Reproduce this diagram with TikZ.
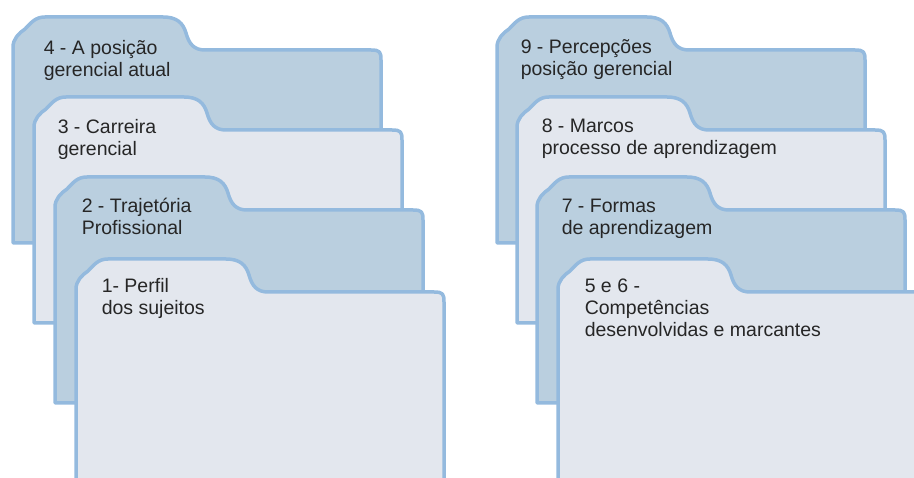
\documentclass[tikz,border=0pt]{standalone}
\usepackage{fontspec}
\setmainfont{Liberation Sans}
\definecolor{tabline}{RGB}{148,186,222}
\definecolor{tabdark}{RGB}{186,207,223}
\definecolor{tablight}{RGB}{227,231,238}
\definecolor{tabtext}{RGB}{38,38,38}
\begin{document}
\begin{tikzpicture}[x=1pt,y=-1pt,line width=3.5pt,
  folder/.style={draw=tabline,line join=round},
  label/.style={anchor=base west,inner sep=0pt,align=left,text=tabtext,
    font=\fontsize{19.5}{22}\selectfont}]
\useasboundingbox (0,0) rectangle (914,478);
\clip (0,0) rectangle (914,478);
% left stack
\draw[folder,fill=tabdark,shift={(13,17)}] (0,226) -- (0,30) .. controls (0,22) and (6,16) .. (12,12) .. controls (18,6) and (22,0) .. (32,0) -- (150,0) .. controls (164,0) and (170,6) .. (173,16) .. controls (176,27) and (181,33) .. (192,33) -- (358,33) .. controls (367,33) and (368,35) .. (368,43) -- (368,226) -- cycle;
\node[label] (f4) at (42,77) {4 - A posição\\gerencial atual};
\draw[folder,fill=tablight,shift={(34,97)}] (0,226) -- (0,30) .. controls (0,22) and (6,16) .. (12,12) .. controls (18,6) and (22,0) .. (32,0) -- (150,0) .. controls (164,0) and (170,6) .. (173,16) .. controls (176,27) and (181,33) .. (192,33) -- (358,33) .. controls (367,33) and (368,35) .. (368,43) -- (368,226) -- cycle;
\node[label] (f3) at (56,156) {3 - Carreira\\gerencial};
\draw[folder,fill=tabdark,shift={(55,177)}] (0,226) -- (0,30) .. controls (0,22) and (6,16) .. (12,12) .. controls (18,6) and (22,0) .. (32,0) -- (150,0) .. controls (164,0) and (170,6) .. (173,16) .. controls (176,27) and (181,33) .. (192,33) -- (358,33) .. controls (367,33) and (368,35) .. (368,43) -- (368,226) -- cycle;
\node[label] (f2) at (80,235) {2 - Trajetória\\Profissional};
\draw[folder,fill=tablight,shift={(76,259)}] (0,236) -- (0,30) .. controls (0,22) and (6,16) .. (12,12) .. controls (18,6) and (22,0) .. (32,0) -- (150,0) .. controls (164,0) and (170,6) .. (173,16) .. controls (176,27) and (181,33) .. (192,33) -- (358,33) .. controls (367,33) and (368,35) .. (368,43) -- (368,236) -- cycle;
\node[label] (f1) at (100,315) {1- Perfil\\dos sujeitos};
% right stack
\draw[folder,fill=tabdark,shift={(497,17)}] (0,226) -- (0,30) .. controls (0,22) and (6,16) .. (12,12) .. controls (18,6) and (22,0) .. (32,0) -- (150,0) .. controls (164,0) and (170,6) .. (173,16) .. controls (176,27) and (181,33) .. (192,33) -- (358,33) .. controls (367,33) and (368,35) .. (368,43) -- (368,226) -- cycle;
\node[label] (f9) at (519,76) {9 - Percepções\\posição gerencial};
\draw[folder,fill=tablight,shift={(517,97)}] (0,226) -- (0,30) .. controls (0,22) and (6,16) .. (12,12) .. controls (18,6) and (22,0) .. (32,0) -- (150,0) .. controls (164,0) and (170,6) .. (173,16) .. controls (176,27) and (181,33) .. (192,33) -- (358,33) .. controls (367,33) and (368,35) .. (368,43) -- (368,226) -- cycle;
\node[label] (f8) at (540,155) {8 - Marcos\\processo de aprendizagem};
\draw[folder,fill=tabdark,shift={(537,177)}] (0,226) -- (0,30) .. controls (0,22) and (6,16) .. (12,12) .. controls (18,6) and (22,0) .. (32,0) -- (150,0) .. controls (164,0) and (170,6) .. (173,16) .. controls (176,27) and (181,33) .. (192,33) -- (358,33) .. controls (367,33) and (368,35) .. (368,43) -- (368,226) -- cycle;
\node[label] (f7) at (560,235) {7 - Formas\\de aprendizagem};
\draw[folder,fill=tablight,shift={(558,259)}] (0,236) -- (0,30) .. controls (0,22) and (6,16) .. (12,12) .. controls (18,6) and (22,0) .. (32,0) -- (150,0) .. controls (164,0) and (170,6) .. (173,16) .. controls (176,27) and (181,33) .. (192,33) -- (358,33) .. controls (367,33) and (368,35) .. (368,43) -- (368,236) -- cycle;
\node[label] (f56) at (583,337) {5 e 6 -\\Competências\\desenvolvidas e marcantes};
\end{tikzpicture}
\end{document}
